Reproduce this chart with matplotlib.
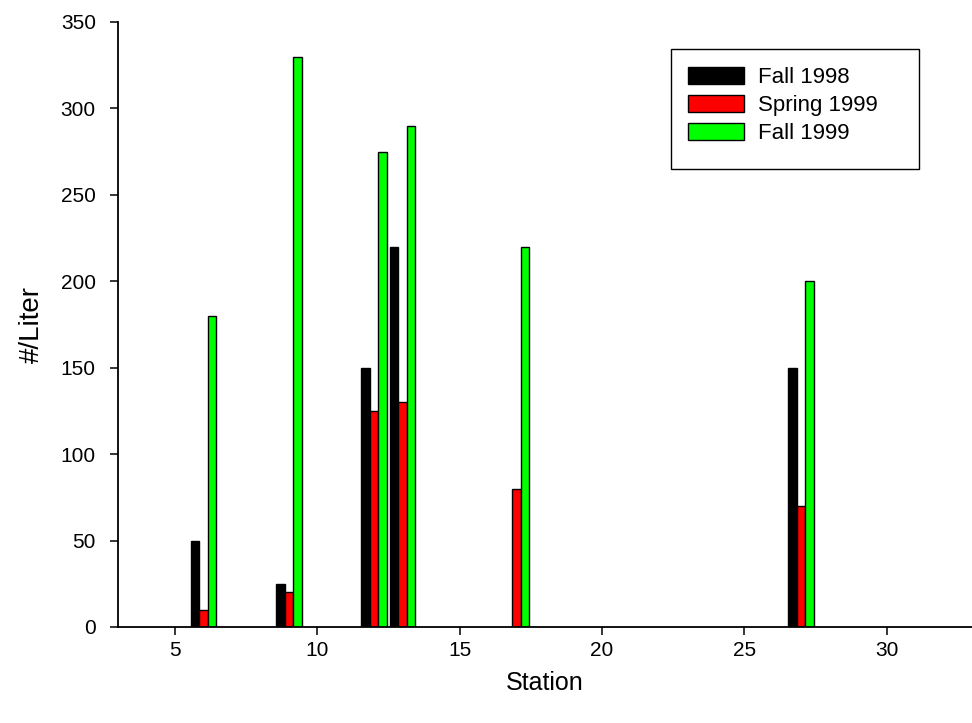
import numpy as np
import matplotlib.pyplot as plt
from matplotlib.patches import Rectangle

plt.rcParams['font.family'] = ['Liberation Sans', 'DejaVu Sans']

# stations sampled and counts per liter for each survey
stations = [6, 9, 12, 13, 17, 27]
fall_1998 = [50, 25, 150, 220, 0, 150]
spring_1999 = [10, 20, 125, 130, 80, 70]
fall_1999 = [180, 330, 275, 290, 220, 200]

series = [
    ('Fall 1998', fall_1998, 'black'),
    ('Spring 1999', spring_1999, '#ff0000'),
    ('Fall 1999', fall_1999, '#00ff00'),
]

fig = plt.figure(figsize=(9.72, 7.23), dpi=100)
ax = fig.add_axes([0.1214, 0.1328, 0.8786, 0.8368])

x = np.array(stations, dtype=float)
w = 0.3
for k, (name, vals, col) in enumerate(series):
    h = np.array(vals, dtype=float)
    h[h == 0] = np.nan   # no sample -> no bar
    ax.bar(x + (k - 1) * w, h, width=w, color=col, edgecolor='black',
           linewidth=1.0, label=name, zorder=2)

ax.set_xlim(3, 33)
ax.set_ylim(0, 350)
ax.set_xticks([5, 10, 15, 20, 25, 30])
ax.set_yticks(np.arange(0, 351, 50))

for side in ['top', 'right']:
    ax.spines[side].set_visible(False)
for side in ['left', 'bottom']:
    ax.spines[side].set_linewidth(1.3)
ax.tick_params(direction='out', length=6, width=1.1, labelsize=15)
ax.tick_params(axis='y', pad=10)
ax.tick_params(axis='x', pad=4)

ax.set_xlabel('Station', fontsize=18)
ax.set_ylabel('#/Liter', fontsize=20)
ax.xaxis.set_label_coords(0.5, -0.072)
ax.yaxis.set_label_coords(-0.0855, 0.5)

# legend entries without frame, box drawn separately
leg = ax.legend(loc='upper left', bbox_to_anchor=(0.6675, 0.9256), fontsize=16,
                frameon=False, handlelength=2.5, handleheight=0.8,
                labelspacing=0.3, borderpad=0, handletextpad=0.63,
                borderaxespad=0)
fig.patches.append(Rectangle((0.6903, 0.7663), 0.2551, 0.166, transform=fig.transFigure,
                             fill=False, edgecolor='black', linewidth=1.0))

fig.savefig('out.png', dpi=100)
